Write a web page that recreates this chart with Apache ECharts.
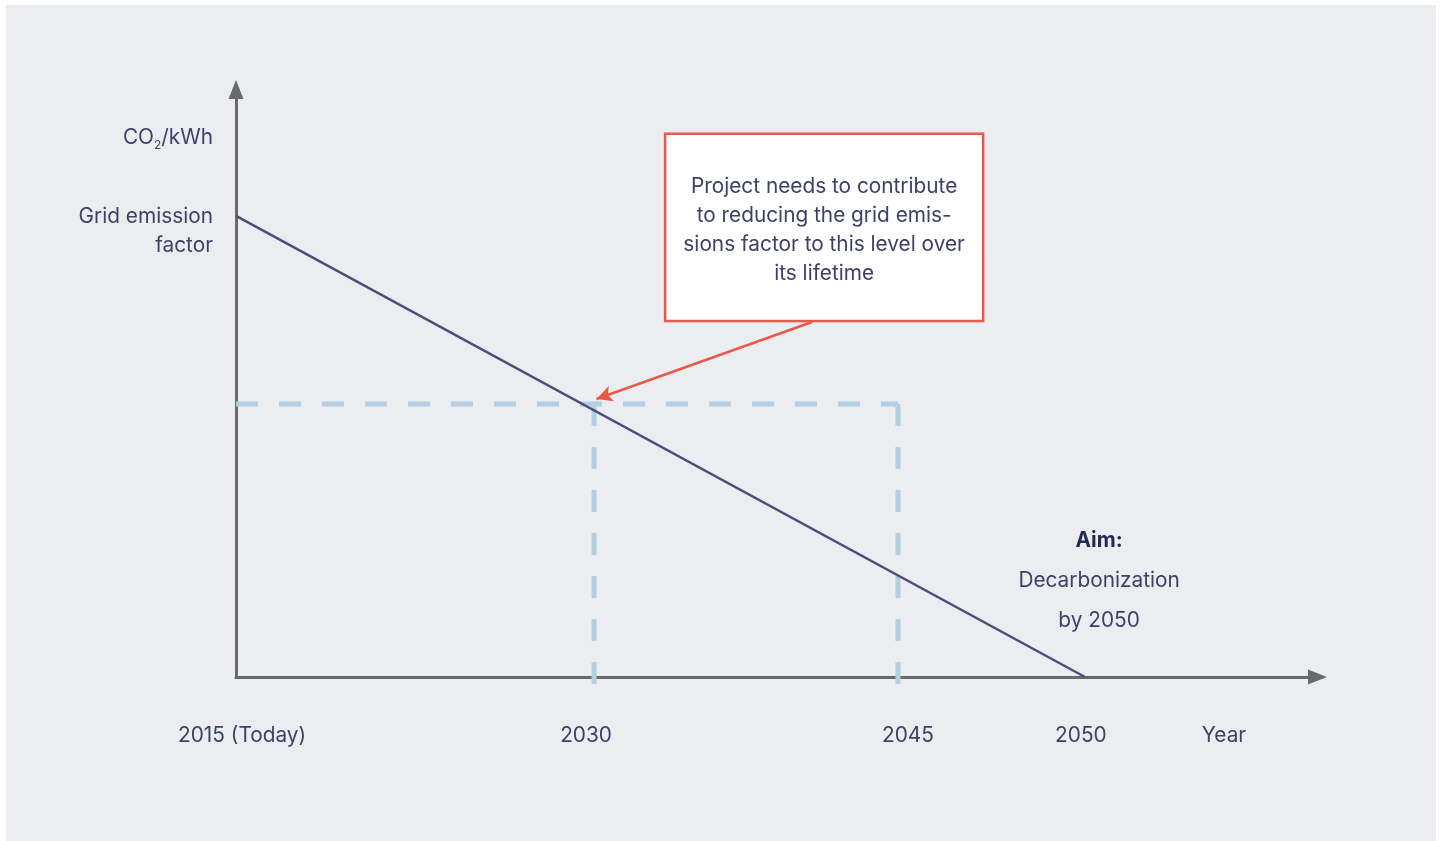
<!DOCTYPE html>
<html>
<head>
<meta charset="utf-8">
<title>Grid emission factor pathway</title>
<script src="https://cdn.jsdelivr.net/npm/echarts@6/dist/echarts.min.js"></script>
<style>
  html, body { margin: 0; padding: 0; background: #ffffff; }
  #panel { position: absolute; left: 6px; top: 5px; width: 1430px; height: 836px; background: #ECEDF1; }
  #chart { position: absolute; left: 0; top: 0; width: 1442px; height: 841px; }
</style>
</head>
<body>
<div id="panel"></div>
<div id="chart"></div>
<script>
// Schematic x axis: years placed along a 0..44.77 track (2015 = 0, 2050 = 35)
const years = ['2015 (Today)', '2030', '2045', '2050'];
const yearPos = [0, 14.76, 27.29, 35];
// Where each year caption sits on the track, plus the axis name
const xLabelText = ['2015 (Today)', '2030', '2045', '2050', 'Year'];
const xLabelPos = [0.25, 14.43, 27.7, 34.83, 40.73];

// Grid emission factor (index, 100 = today) falling to zero by 2050
const emissionYears = ['2015 (Today)', '2050'];
const emissionValues = [100, 0];

// Level the project must help reach by 2030, held through 2045
const targetLevel = 59.2;

// Y-axis captions
const yLabelText = ['Grid emission\nfactor', 'CO2/kWh'];
const yLabelPos = [96.6, 116.9];

// Callout text and the aim note
const calloutText = 'Project needs to contribute\nto reducing the grid emis-\nsions factor to this level over\nits lifetime';
const aimTitle = 'Aim:';
const aimLines = ['Decarbonization', 'by 2050'];

const TEXT = '#3C4266';
const FONT = 'Inter';
const FS = 20.8;
const pos = y => yearPos[years.indexOf(y)];

const chart = echarts.init(document.getElementById('chart'), null, { renderer: 'canvas' });

const emissionLine = emissionYears.map((y, i) => [pos(y), emissionValues[i]]);
const x2030 = pos('2030'), x2045 = pos('2045'), x2015 = pos('2015 (Today)');
const guideStyle = { color: '#B4CFE2', width: 5, type: [22, 21] };
const axisArrow = { show: true, lineStyle: { color: '#6A6A6C', width: 3 }, symbol: ['none', 'triangle'], symbolSize: [15, 19], symbolOffset: [0, -4.5] };

chart.setOption({
  backgroundColor: 'transparent',
  animation: false,
  textStyle: { fontFamily: FONT },
  grid: { left: 236, right: 120, top: 85, bottom: 164 },
  xAxis: {
    type: 'value', min: 0, max: 44.77,
    splitLine: { show: false },
    axisLine: axisArrow,
    axisTick: { show: false },
    axisLabel: {
      customValues: xLabelPos,
      formatter: v => xLabelText[xLabelPos.indexOf(v)] || '',
      color: TEXT, fontSize: FS, fontFamily: FONT, margin: 48
    }
  },
  yAxis: {
    type: 'value', min: 0, max: 128.4,
    splitLine: { show: false },
    axisLine: axisArrow,
    axisTick: { show: false },
    axisLabel: {
      customValues: yLabelPos,
      formatter: v => {
        const t = yLabelText[yLabelPos.indexOf(v)];
        if (t === 'CO2/kWh') return '{a|CO}{s|2}{a|/kWh}';
        return t;
      },
      color: TEXT, fontSize: FS, fontFamily: FONT, lineHeight: 29, margin: 23, align: 'right',
      rich: {
        a: { color: TEXT, fontSize: FS, fontFamily: FONT },
        s: { color: TEXT, fontSize: 12, fontFamily: FONT, padding: [14, 0, 0, 0] }
      }
    }
  },
  series: [
    {
      // Dashed guide: 2030 level across from the y axis to 2045
      type: 'line', silent: true, symbol: 'none', clip: false, z: 1,
      data: [[x2015, targetLevel], [x2045, targetLevel]],
      lineStyle: guideStyle
    },
    {
      // Dashed drop at 2045 (drawn bottom-up)
      type: 'line', silent: true, symbol: 'none', clip: false, z: 1,
      data: [[x2045, -1.5], [x2045, targetLevel]],
      lineStyle: guideStyle
    },
    {
      // Dashed drop at 2030 (drawn bottom-up)
      type: 'line', silent: true, symbol: 'none', clip: false, z: 1,
      data: [[x2030, -1.5], [x2030, targetLevel]],
      lineStyle: guideStyle
    },
    {
      // Grid emission factor pathway
      type: 'line', silent: true, symbol: 'none', z: 3,
      data: emissionLine,
      lineStyle: { color: '#4E4C7A', width: 2.5 },
      markArea: {
        silent: true,
        itemStyle: { color: '#FFFFFF', borderColor: '#E8594A', borderWidth: 2.5 },
        label: {
          show: true, position: 'inside', formatter: calloutText,
          color: TEXT, fontSize: FS, fontFamily: FONT, lineHeight: 29, align: 'center', offset: [0, 3]
        },
        data: [[{ coord: [17.69, 117.8] }, { coord: [30.8, 77.2] }]]
      },
      markLine: {
        silent: true, animation: false,
        symbol: ['none', 'arrow'], symbolSize: [12, 16],
        lineStyle: { color: '#E8594A', width: 2.5, type: 'solid' },
        label: { show: false },
        data: [[{ coord: [23.75, 77.0] }, { coord: [14.86, 60.3] }]]
      }
    },
    {
      // Aim note near the 2050 end point
      type: 'scatter', silent: true, symbolSize: 0, z: 4,
      itemStyle: { opacity: 1 },
      data: [[35.58, 20.8]],
      label: {
        show: true, position: 'inside', align: 'center',
        formatter: '{b|' + aimTitle + '}\n' + aimLines.map(l => '{n|' + l + '}').join('\n'),
        rich: {
          b: { color: '#232A4F', fontSize: FS, fontWeight: 'bold', fontFamily: FONT, lineHeight: 40 },
          n: { color: TEXT, fontSize: FS, fontFamily: FONT, lineHeight: 40 }
        }
      }
    }
  ]
});
</script>
</body>
</html>
